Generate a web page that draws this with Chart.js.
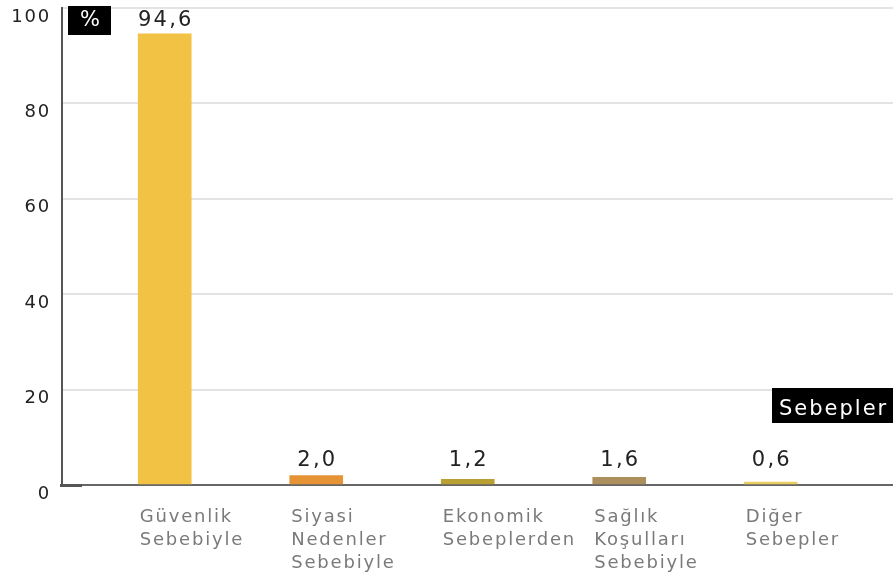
<!DOCTYPE html>
<html><head><meta charset="utf-8">
<script src="https://cdn.jsdelivr.net/npm/chart.js@4.4.1/dist/chart.umd.min.js"></script>
<style>html,body{margin:0;padding:0;background:#fff;overflow:hidden}#wrap{width:893px;height:574px;position:relative}</style>
</head><body><div id="wrap"><canvas id="c"></canvas></div>
<script>
const categories = [["Güvenlik","Sebebiyle"],["Siyasi","Nedenler","Sebebiyle"],["Ekonomik","Sebeplerden"],["Sağlık","Koşulları","Sebebiyle"],["Diğer","Sebepler"]];
const values = [94.6, 2.0, 1.2, 1.6, 0.6];
const valueLabels = ["94,6","2,0","1,2","1,6","0,6"];
const barColors = ["#F2C244","#E69335","#B8A033","#AD8F5E","#E9CF62"];
const yTicks = [0,20,40,60,80,100];
const unitLabel = "%";
const axisTitle = "Sebepler";

const FONT = '"DejaVu Sans", sans-serif';

const spacingPlugin = {
  id: 'spacing',
  beforeDraw(chart) { chart.ctx.letterSpacing = '1.8px'; }
};

const valuePlugin = {
  id: 'values',
  afterDatasetsDraw(chart) {
    const ctx = chart.ctx;
    const meta = chart.getDatasetMeta(0);
    const zeroY = chart.scales.y.getPixelForValue(0);
    ctx.save();
    ctx.letterSpacing = '2.2px';
    ctx.font = '21px ' + FONT;
    ctx.fillStyle = '#222';
    ctx.textAlign = 'center';
    ctx.textBaseline = 'alphabetic';
    meta.data.forEach((el, i) => {
      ctx.fillText(valueLabels[i], el.x + 1.1, Math.min(el.y - 8, zeroY - 19));
    });
    ctx.restore();
  },
  afterDraw(chart) {
    const ctx = chart.ctx;
    const ca = chart.chartArea;
    ctx.save();
    ctx.letterSpacing = '2px';
    ctx.fillStyle = '#000';
    ctx.fillRect(ca.left + 6, ca.top - 2, 43, 29);
    ctx.fillStyle = '#fff';
    ctx.font = '21px ' + FONT;
    ctx.textAlign = 'center';
    ctx.textBaseline = 'middle';
    ctx.fillText(unitLabel, ca.left + 29, ca.top + 13);
    ctx.fillStyle = '#000';
    ctx.fillRect(772, ca.bottom - 97, chart.width - 772, 35);
    ctx.fillStyle = '#fff';
    ctx.textAlign = 'left';
    ctx.textBaseline = 'alphabetic';
    ctx.fillText(axisTitle, 779, ca.bottom - 70);
    // short darker stub at the left end of the baseline
    ctx.fillStyle = '#555';
    ctx.fillRect(ca.left - 2, ca.bottom - 1, 22, 3);
    ctx.restore();
  }
};

new Chart(document.getElementById('c'), {
  type: 'bar',
  data: {
    datasets: [{
      data: values.map((v, i) => ({x: i, y: v})),
      backgroundColor: barColors,
      borderWidth: 0,
      barThickness: 53
    }]
  },
  options: {
    responsive: true,
    maintainAspectRatio: false,
    animation: false,
    layout: { padding: { top: 8, left: 0, right: 0, bottom: 0 } },
    plugins: { legend: { display: false }, tooltip: { enabled: false } },
    scales: {
      x: {
        type: 'linear',
        offset: false,
        min: -0.678,
        max: 4.807,
        afterBuildTicks(scale) { scale.ticks = categories.map((c, i) => ({value: i})); },
        afterFit(scale) { scale.height = 89; scale.paddingLeft = 0; scale.paddingRight = 0; },
        grid: { display: false, drawTicks: false, offset: false },
        border: { display: true, color: '#666', width: 2 },
        ticks: {
          autoSkip: false,
          maxRotation: 0,
          align: 'start',
          labelOffset: -25,
          padding: 21,
          color: '#7a7a7a',
          font: { family: FONT, size: 18, lineHeight: 1.28 },
          callback(v) { return categories[v]; }
        }
      },
      y: {
        min: 0,
        max: 100,
        afterBuildTicks(scale) { scale.ticks = yTicks.map(v => ({value: v})); },
        afterFit(scale) { scale.width = 62; scale.paddingTop = 0; scale.paddingBottom = 0; },
        grid: { color: '#e3e3e3', lineWidth: 2, drawTicks: false },
        border: { display: true, color: '#555', width: 2 },
        ticks: {
          padding: 11,
          labelOffset: 9,
          color: '#222',
          font: { family: FONT, size: 18, lineHeight: 0.9 }
        }
      }
    }
  },
  plugins: [spacingPlugin, valuePlugin]
});
</script>
</body></html>
